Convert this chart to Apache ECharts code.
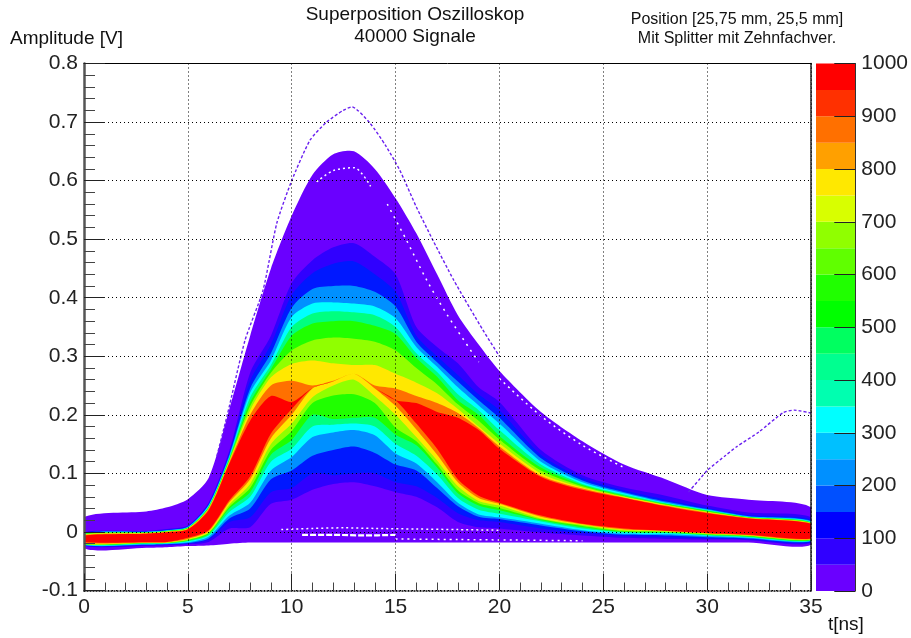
<!DOCTYPE html>
<html><head><meta charset="utf-8">
<style>html,body{margin:0;padding:0;background:#fff}#c{width:911px;height:638px}</style>
<script src="https://cdn.jsdelivr.net/npm/echarts@6/dist/echarts.min.js"></script>
</head><body><div id="c"></div>
<script>
// time columns at which the density contours were read (ns)
const tColumns = [0,3,4,5,6,7,8,9,10,11,12,13,14,15,16,17,18,19,20,22,24,26,28,30,32,35];
// contour levels (counts) and the colour above each level
const contourLevels = [0,50,100,200,300,450,550,650,750,850,950];
const contourColors = ['#6a00ff','#3000ff','#0018ff','#0090ff','#00ffff','#00ff80','#20ff00','#90ff00','#ffe800','#ff7000','#ff0000'];
// per column: lower edge of each contour (level 0..950), then upper edge (level 950..0), volts
const p0  = [-.028,-.024,-.023,-.0225,-.022,-.0215,-.021,-.0205,-.020,-.0185,-.017, -.006,-.0052,-.0045,-.004,-.0035,-.003,-.0025,-.002,-.0012,-.0005,.025];
const p3  = [-.027,-.024,-.0225,-.022,-.021,-.02,-.0195,-.019,-.0185,-.018,-.0175, -.003,-.0025,-.002,-.0015,-.001,-.0005,0,.0005,.001,.002,.035];
const p4  = [-.026,-.023,-.0215,-.021,-.02,-.0195,-.019,-.0185,-.018,-.0175,-.017, -.0005,0,.0005,.001,.0015,.002,.0025,.003,.004,.005,.042];
const p5  = [-.024,-.021,-.02,-.019,-.0175,-.016,-.015,-.014,-.013,-.012,-.01, .004,.005,.006,.0065,.007,.0075,.008,.009,.0095,.011,.056];
const p6  = [-.023,-.017,-.013,-.011,-.008,-.006,-.004,-.002,-.001,.001,.003, .037,.039,.04,.041,.042,.043,.045,.046,.048,.05,.092];
const p7  = [-.02,.006,.017,.023,.028,.034,.04,.043,.047,.051,.054, .117,.119,.121,.123,.125,.127,.129,.132,.135,.139,.21];
const p8  = [-.018,.008,.025,.04,.05,.06,.068,.075,.082,.09,.095, .19,.2,.208,.215,.222,.23,.238,.245,.258,.272,.335];
const p9  = [-.018,.048,.068,.09,.105,.12,.132,.14,.15,.16,.168, .232,.25,.264,.272,.278,.285,.293,.305,.32,.335,.45];
const p10 = [-.018,.055,.075,.105,.128,.142,.157,.172,.185,.2,.21, .222,.258,.287,.31,.335,.35,.367,.383,.405,.425,.54];
const p11 = [-.018,.072,.1,.13,.162,.18,.2,.22,.23,.245,.246, .246,.25,.293,.327,.356,.373,.39,.415,.442,.464,.61];
const p12 = [-.018,.082,.097,.14,.17,.183,.193,.233,.25,.257,.257, .257,.258,.288,.332,.36,.377,.392,.42,.458,.486,.645];
const p13 = [-.018,.085,.1,.146,.174,.185,.195,.235,.26,.27,.27, .27,.27,.285,.33,.36,.375,.39,.42,.462,.493,.65];
const p14 = [-.018,.078,.1,.135,.165,.18,.195,.22,.232,.245,.246, .246,.25,.285,.325,.352,.37,.385,.41,.44,.47,.62];
const p15 = [-.018,.068,.085,.115,.134,.15,.166,.178,.2,.215,.225, .225,.245,.27,.31,.338,.35,.365,.385,.41,.44,.57];
const p16 = [-.018,.06,.078,.105,.117,.13,.148,.155,.162,.175,.185, .22,.232,.255,.28,.297,.305,.316,.325,.335,.35,.51];
const p17 = [-.018,.042,.058,.075,.085,.098,.11,.115,.122,.132,.142, .205,.22,.237,.252,.265,.273,.282,.29,.30,.316,.44];
const p18 = [-.018,.017,.032,.044,.05,.058,.066,.071,.078,.085,.09, .195,.203,.21,.218,.225,.235,.247,.257,.268,.288,.37];
const p19 = [-.018,.008,.02,.026,.03,.038,.045,.049,.053,.058,.062, .174,.177,.18,.19,.2,.208,.216,.225,.235,.247,.32];
const p20 = [-.018,.006,.017,.022,.025,.031,.037,.041,.045,.048,.05, .142,.146,.151,.158,.164,.174,.185,.195,.208,.222,.275];
const p22 = [-.018,-.001,.006,.011,.014,.018,.02,.0215,.023,.026,.028, .094,.096,.1,.105,.11,.115,.12,.126,.132,.14,.205];
const p24 = [-.018,-.006,-.002,.001,.003,.006,.008,.01,.012,.013,.014, .072,.074,.076,.078,.08,.082,.085,.088,.092,.097,.155];
const p26 = [-.018,-.01,-.007,-.005,-.003,-.001,0,.001,.003,.004,.006, .058,.059,.06,.061,.062,.064,.066,.068,.071,.076,.115];
const p28 = [-.018,-.012,-.009,-.006,-.004,-.002,-.001,0,.001,.0015,.002, .044,.045,.046,.047,.048,.049,.05,.052,.055,.062,.09];
const p30 = [-.018,-.013,-.011,-.009,-.007,-.006,-.005,-.004,-.003,-.0025,-.002, .032,.033,.034,.035,.036,.037,.038,.039,.041,.045,.063];
const p32 = [-.018,-.014,-.0125,-.011,-.01,-.009,-.008,-.007,-.006,-.0055,-.005, .023,.0235,.024,.0245,.025,.0255,.026,.027,.029,.033,.055];
const p35 = [-.022,-.019,-.0175,-.016,-.015,-.0145,-.014,-.013,-.0125,-.012,-.011, .014,.0145,.015,.0155,.016,.017,.018,.019,.021,.025,.042];
const profiles = [p0,p3,p4,p5,p6,p7,p8,p9,p10,p11,p12,p13,p14,p15,p16,p17,p18,p19,p20,p22,p24,p26,p28,p30,p32,p35];

// sparse outlier traces
const outlierUpperT = [6.4,6.9,7.75,8.62,9.28,10,10.88,11.68,12.48,12.9,13.77,14.5,15.2,16,16.8,17.8,19.2,20];
const outlierUpperV = [.13,.2,.327,.413,.527,.6,.669,.70,.72,.726,.698,.661,.618,.555,.498,.43,.345,.3];
const outlierRightT = [29.1,29.66,30,30.9,31.4,32.5,33.67,34.2,35];
const outlierRightV = [.068,.091,.105,.131,.145,.171,.204,.208,.203];
// empty-bin streaks inside the low-count region
const gapAT = [9.5,11,12.5,14,16,18,20];
const gapAV = [.004,.006,.007,.006,.005,.004,.003];
const gapBT = [10.5,12,13.5,15];
const gapBV = [-.005,-.005,-.006,-.005];
const gapCT = [15,18,21,24];
const gapCV = [-.012,-.013,-.014,-.015];
const gapDT = [11.2,12,13,13.8];
const gapDV = [.598,.617,.622,.59];
const gapET = [14.6,15.5,16.5,17.5,19];
const gapEV = [.56,.5,.43,.37,.29];
const gapFT = [20,22,24,26];
const gapFV = [.262,.198,.148,.11];

// colour bar
const colorBinWidth = [50,50,50,50,50,50,50,50,50,50,50,50,50,50,50,50,50,50,50,50];
const colorBins = ['#6a00ff','#3000ff','#0000ff','#0050ff','#0090ff','#00c0ff','#00ffff','#00ffb0','#00ff90','#00ff60','#00ff00','#20ff00','#60ff00','#90ff00','#d8ff00','#ffe800','#ffa000','#ff7000','#ff3000','#ff0000'];

const xTickFmt = v => String(v);
const yTickFmt = v => (Math.abs(v) < 1e-9 ? '0' : String(Math.round(v*10)/10));

const FONT = 'Liberation Sans';
const series = [];
const N = contourLevels.length;
function renderBand(color){
  return function(params, api){
    if (params.dataIndexInside !== 0) return null;
    const n = params.dataInsideLength, lower = [], upper = [];
    for (let i = 0; i < n; i++){
      const t = api.value(0, i);
      lower.push(api.coord([t, api.value(1, i)]));
      upper.push(api.coord([t, api.value(2, i)]));
    }
    return {type:'polygon', shape:{points:lower.concat(upper.reverse()), smooth:0.25},
      style:{fill:color, stroke:null}, silent:true};
  };
}
contourLevels.forEach((lv, k) => {
  series.push({type:'custom', name:'level'+lv, xAxisIndex:0, yAxisIndex:0, clip:true, silent:true,
    encode:{x:0, y:[1,2]},
    data: profiles.map((p, i) => [tColumns[i], p[k], p[2*N-1-k]]),
    renderItem: renderBand(contourColors[k])});
});
const zipXY = (a,b) => a.map((v,i)=>[v,b[i]]);
[[gapAT,gapAV,[2,3],1.5],[gapBT,gapBV,[6,2],2.2],[gapCT,gapCV,[2,4],1.5],[gapDT,gapDV,[2,3],1.5],[gapET,gapEV,[2,5],1.5],[gapFT,gapFV,[2,4],1.5]].forEach(g=>{
  series.push({type:'line',xAxisIndex:0,yAxisIndex:0,data:zipXY(g[0],g[1]),showSymbol:false,smooth:0.3,silent:true,
    lineStyle:{color:'#ffffff',width:g[3],type:g[2]}});
});
[[outlierUpperT,outlierUpperV],[outlierRightT,outlierRightV]].forEach(g=>{
  series.push({type:'line',xAxisIndex:0,yAxisIndex:0,data:zipXY(g[0],g[1]),showSymbol:false,smooth:0.2,silent:true,
    lineStyle:{color:'#6a20f0',width:1.4,type:[3,2]}});
});
colorBins.forEach((c,i)=>{
  series.push({type:'bar',xAxisIndex:2,yAxisIndex:2,stack:'bar',barWidth:'100%',silent:true,
    data:[colorBinWidth[i]],itemStyle:{color:c}});
});

const chart = echarts.init(document.getElementById('c'),null,{renderer:'canvas'});
chart.setOption({
  animation:false,
  backgroundColor:'#fff',
  title:[
    {text:'Superposition Oszilloskop\n40000 Signale',left:415,top:4,padding:0,textAlign:'center',
     textStyle:{fontFamily:FONT,fontSize:19,fontWeight:'normal',color:'#111',lineHeight:22}},
    {text:'Position [25,75 mm, 25,5 mm]\nMit Splitter mit Zehnfachver.',left:737,top:10,padding:0,textAlign:'center',
     textStyle:{fontFamily:FONT,fontSize:16,fontWeight:'normal',color:'#111',lineHeight:19}},
    {text:'Amplitude [V]',left:10,top:29,padding:0,textStyle:{fontFamily:FONT,fontSize:19,fontWeight:'normal',color:'#111'}},
    {text:'t[ns]',left:828,top:615,padding:0,textStyle:{fontFamily:FONT,fontSize:19,fontWeight:'normal',color:'#111'}}
  ],
  grid:[
    {left:84,top:63.5,width:727,height:527,show:false},
    {left:84,top:63.5,width:727,height:527,show:false},
    {left:816,top:63.5,width:41,height:527.5,show:false}
  ],
  xAxis:[
    {type:'value',gridIndex:0,min:0,max:35,interval:5,z:5,position:'bottom',
     axisLine:{show:true,onZero:false,lineStyle:{color:'#000',width:1.5,type:[1,2]}},
     axisTick:{show:true,inside:true,length:17,lineStyle:{color:'#222',width:1}},
     minorTick:{show:true,splitNumber:5,length:8,lineStyle:{color:'#444',width:1}},
     axisLabel:{fontFamily:FONT,fontSize:21,color:'#222',margin:6,formatter:xTickFmt,showMinLabel:true,showMaxLabel:true},
     splitLine:{show:true,lineStyle:{color:'#000',width:1,type:[1,3]}}},
    {type:'value',gridIndex:1,min:0,max:35,position:'top',z:5,
     axisLine:{show:true,onZero:false,lineStyle:{color:'#000',width:1}},
     axisTick:{show:false},axisLabel:{show:false},splitLine:{show:false}},
    {type:'category',gridIndex:2,data:['c'],show:false}
  ],
  yAxis:[
    {type:'value',gridIndex:0,min:-0.1,max:0.8,interval:0.1,z:5,position:'left',
     axisLine:{show:true,onZero:false,lineStyle:{color:'#555',width:2.5}},
     axisTick:{show:true,inside:true,length:21,lineStyle:{color:'#222',width:1}},
     minorTick:{show:true,splitNumber:5,length:11,lineStyle:{color:'#444',width:1}},
     axisLabel:{fontFamily:FONT,fontSize:21,color:'#222',margin:6,formatter:yTickFmt,showMinLabel:true,showMaxLabel:true},
     splitLine:{show:true,lineStyle:{color:'#000',width:1,type:[1,3]}}},
    {type:'value',gridIndex:1,min:-0.1,max:0.8,position:'right',z:5,
     axisLine:{show:true,onZero:false,lineStyle:{color:'#000',width:1.5,type:[1,1]}},
     axisTick:{show:false},axisLabel:{show:false},splitLine:{show:false}},
    {type:'value',gridIndex:2,min:0,max:1000,interval:100,position:'right',z:5,
     axisLine:{show:true,onZero:false,lineStyle:{color:'#333',width:1}},
     axisTick:{show:true,inside:true,length:21,lineStyle:{color:'#222',width:1}},
     axisLabel:{fontFamily:FONT,fontSize:21,color:'#222',margin:6,formatter:v=>String(v),showMinLabel:true,showMaxLabel:true},
     splitLine:{show:false}}
  ],
  series
});
</script></body></html>
